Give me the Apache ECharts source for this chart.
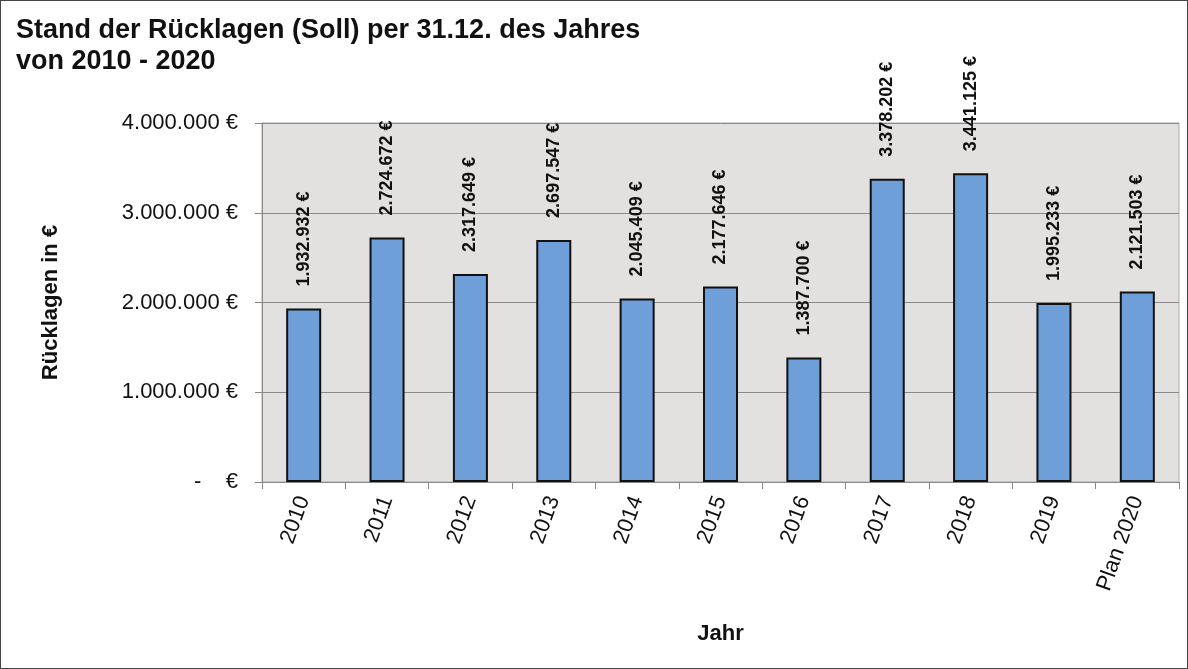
<!DOCTYPE html>
<html>
<head>
<meta charset="utf-8">
<script src="https://cdn.jsdelivr.net/npm/echarts@6/dist/echarts.min.js"></script>
<style>
  html, body { margin: 0; padding: 0; background: #fff; }
  #main { width: 1188px; height: 669px; box-sizing: border-box; border: 1px solid #444; }
</style>
</head>
<body>
<div id="main"></div>
<script>
const years = ['2010', '2011', '2012', '2013', '2014', '2015', '2016', '2017', '2018', '2019', 'Plan 2020'];
const reserves = [1932932, 2724672, 2317649, 2697547, 2045409, 2177646, 1387700, 3378202, 3441125, 1995233, 2121503];

const chart = echarts.init(document.getElementById('main'));

// Tausenderpunkte wie im Original (deutsches Format)
const fmtEuro = v => v.toString().replace(/\B(?=(\d{3})+(?!\d))/g, '.') + ' €';

chart.setOption({
    animation: false,
    textStyle: { fontFamily: 'Liberation Sans, Arial, sans-serif' },
    title: {
        text: 'Stand der Rücklagen (Soll) per 31.12. des Jahres\nvon 2010 - 2020',
        left: 10, top: 9,
        textStyle: { fontSize: 27, fontWeight: 'bold', color: '#111', lineHeight: 31 }
    },
    grid: { left: 261, right: 8, top: 122, bottom: 186, containLabel: false,
        show: true, backgroundColor: '#e3e1df', borderColor: '#aaa', borderWidth: 1 },
    xAxis: {
        type: 'category',
        data: years,
        name: 'Jahr',
        nameLocation: 'middle',
        nameGap: 141,
        nameTextStyle: { fontSize: 22, fontWeight: 'bold', color: '#111' },
        axisLine: { lineStyle: { color: '#888' } },
        axisTick: { show: true, length: 7, lineStyle: { color: '#888' } },
        axisLabel: { rotate: 70, fontSize: 22, color: '#111', margin: 15, interval: 0 }
    },
    yAxis: {
        type: 'value',
        min: 0, max: 4000000, interval: 1000000,
        name: 'Rücklagen in €',
        nameLocation: 'middle',
        nameGap: 200,
        nameTextStyle: { fontSize: 22, fontWeight: 'bold', color: '#111' },
        axisLine: { show: true, lineStyle: { color: '#888' } },
        axisTick: { show: true, length: 7, lineStyle: { color: '#888' } },
        splitLine: { lineStyle: { color: '#8a8a8a' } },
        axisLabel: {
            fontSize: 22, color: '#111', margin: 24,
            formatter: v => v === 0 ? '-    €' : fmtEuro(v)
        }
    },
    series: [{
        type: 'bar',
        data: reserves,
        barWidth: '42%',
        itemStyle: { color: '#6f9fd8', borderColor: '#111', borderWidth: 2 },
        label: {
            show: true,
            position: 'top',
            rotate: 90,
            align: 'left',
            verticalAlign: 'middle',
            distance: 22,
            fontSize: 18,
            fontWeight: 'bold',
            color: '#111',
            formatter: p => fmtEuro(p.value)
        }
    }]
});
window.onresize = () => chart.resize();
</script>
</body>
</html>
